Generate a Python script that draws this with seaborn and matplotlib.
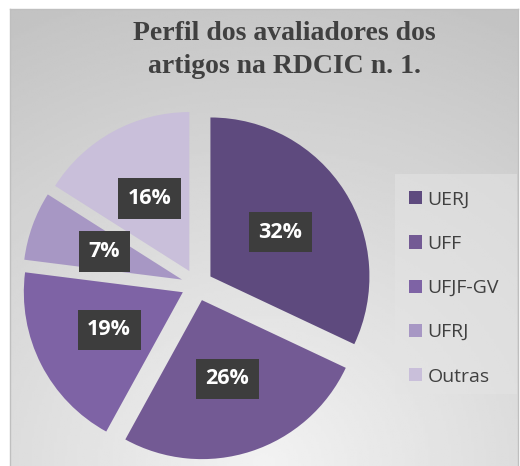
import matplotlib.pyplot as plt
import matplotlib.patches as mpatches
import numpy as np
import seaborn as sns

# DATA
categories = ['UERJ', 'UFF', 'UFJF-GV', 'UFRJ', 'Outras']
shares = [32, 26, 19, 7, 16]
colors = ['#5E4A7E', '#735A94', '#7E63A5', '#A797C4', '#C9BFDA']
title = 'Perfil dos avaliadores dos\nartigos na RDCIC n. 1.'

sns.set_theme(style='white')
plt.rcParams['font.family'] = ['Open Sans', 'DejaVu Sans']

W, H = 520, 466
fig = plt.figure(figsize=(W / 100, H / 100), dpi=100)
fig.patch.set_facecolor('white')

# BACKGROUND GRADIENT INSIDE THE FRAME
bg = fig.add_axes([10 / W, 0, (W - 12) / W, (H - 9) / H])
yy, xx = np.mgrid[0:1:200j, 0:1:200j]
dist = np.sqrt(((xx - 0.5) * 1.0) ** 2 + ((1 - yy) * 1.0) ** 2)
shade = 0.95 - 0.17 * np.clip(dist, 0, 1.1)
bg.imshow(shade, cmap='gray', vmin=0, vmax=1, aspect='auto', extent=[0, 1, 1, 0])
bg.set_xticks([])
bg.set_yticks([])
for s in bg.spines.values():
    s.set_color('#BFBFBF')
    s.set_linewidth(1.0)
bg.spines['bottom'].set_visible(False)

# LEGEND BACKGROUND BOX
fig.patches.append(mpatches.Rectangle((395 / W, 1 - 394 / H), 122 / W, 220 / H,
                                      transform=fig.transFigure,
                                      facecolor='#E4E4E4', edgecolor='none', alpha=0.55))

# PIE
r = 159
cx, cy = 197, 285
span = 1.15
ax = fig.add_axes([(cx - span * r) / W, 1 - (cy + span * r) / H, 2 * span * r / W, 2 * span * r / H])
ax.set_facecolor('none')
wedges, texts, autotexts = ax.pie(shares, colors=colors, startangle=90, counterclock=False,
                                  explode=[0.1] * len(shares), autopct='%1.0f%%',
                                  pctdistance=0.52, wedgeprops=dict(linewidth=0))
for t in autotexts:
    t.set_color('white')
    t.set_fontsize(15.5)
    t.set_fontweight('bold')
    t.set_bbox(dict(boxstyle='square,pad=0.45', facecolor='#3D3D3D', edgecolor='none'))
ax.set_xlim(-span, span)
ax.set_ylim(-span, span)
ax.set_aspect('equal')
ax.axis('off')

# TITLE
fig.text(284 / W, 1 - 50 / H, title, ha='center', va='center', fontsize=20,
         fontweight='bold', color='#404040', family=['Liberation Serif', 'DejaVu Serif'],
         linespacing=1.4)

# LEGEND
handles = [mpatches.Patch(facecolor=c, edgecolor='none', label=l) for c, l in zip(colors, categories)]
leg = fig.legend(handles=handles, loc='upper left', bbox_to_anchor=(391 / W, 1 - 173 / H),
                 frameon=False, fontsize=14, labelcolor='#404040', handlelength=0.68,
                 handleheight=0.68, handletextpad=0.3, labelspacing=1.35)

fig.savefig('out.png', dpi=100)
